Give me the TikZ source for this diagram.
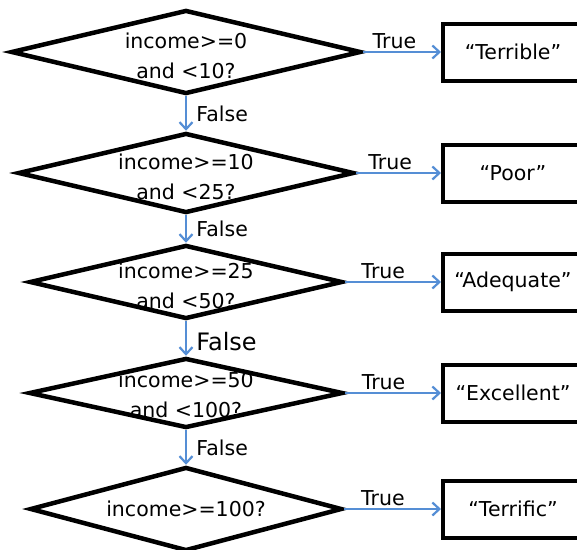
\documentclass[tikz,border=0pt]{standalone}
\usepackage{fontspec}
\setmainfont{DejaVu Sans}
\usetikzlibrary{positioning,shapes.geometric,arrows.meta}
\definecolor{flowblue}{RGB}{85,142,213}
\tikzset{>={Straight Barb[length=7pt,width=13pt]}}
\tikzset{
  decision/.style={diamond, draw, line width=4.5pt, inner sep=0pt},
  question/.style={align=center, yshift=-4pt},
  outcome/.style={rectangle, draw, line width=4pt, minimum width=140pt, minimum height=57pt},
  flow/.style={->, flowblue, line width=2.2pt},
}

\begin{document}
\begin{tikzpicture}[x=1pt, y=-1pt, font=\fontsize{20.5}{30}\selectfont]
		\clip (0,0) rectangle (577,549);
		% questions
		\node[decision, minimum width=350pt, minimum height=84pt] (d1) at (186,52) {};
		\node[decision, minimum width=336pt, minimum height=80pt] (d2) at (186,173) {};
		\node[decision, minimum width=313pt, minimum height=74pt] (d3) at (186,282) {};
		\node[decision, minimum width=314pt, minimum height=70pt] (d4) at (186,393) {};
		\node[decision, minimum width=312pt, minimum height=84pt] (d5) at (186,509) {};
		\node[question] (q1) at (d1) {income>=0\\and <10?};
		\node[question] (q2) at (d2) {income>=10\\and <25?};
		\node[question] (q3) at (d3) {income>=25\\and <50?};
		\node[question, yshift=2pt] (q4) at (d4) {income>=50\\and <100?};
		\node[align=center] (q5) at (d5) {income>=100?};
		% answers
		\node[outcome] (b1) at (513,52) {“Terrible”};
		\node[outcome] (b2) at (513,173) {“Poor”};
		\node[outcome] (b3) at (513,282) {“Adequate”};
		\node[outcome] (b4) at (513,393) {“Excellent”};
		\node[outcome] (b5) at (513,509) {“Terrific”};
		\foreach \i in {1,...,5}
			\draw[flow] (d\i.east) -- node[above, pos=.4, black, inner sep=2pt] {True} (b\i.west);
		\draw[flow] (d1.south) -- node[right, black, xshift=6pt] {False} (d2.north);
		\draw[flow] (d2.south) -- node[right, black, xshift=6pt] {False} (d3.north);
		\draw[flow] (d3.south) -- node[right, black, xshift=6pt, pos=.6, font=\fontsize{24}{28}\selectfont] {False} (d4.north);
		\draw[flow] (d4.south) -- node[right, black, xshift=6pt] {False} (d5.north);
\end{tikzpicture}
\end{document}
